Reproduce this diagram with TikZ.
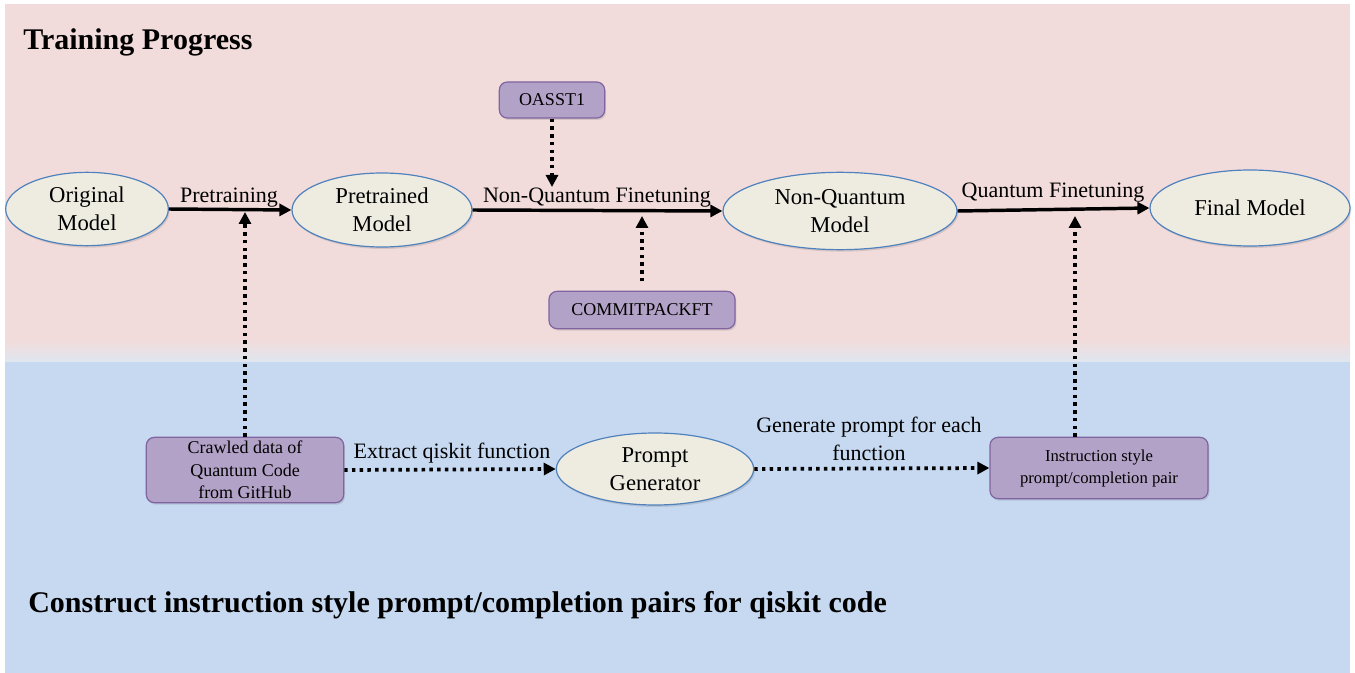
\documentclass[tikz,border=0pt]{standalone}
\usepackage{fontspec}
\setmainfont{Liberation Serif}
\usetikzlibrary{shapes.geometric,arrows.meta,calc,shadows}
\definecolor{bgpink}{HTML}{F2DCDB}
\definecolor{bgblue}{HTML}{C6D9F1}
\definecolor{bgmid}{HTML}{DEE6F0}
\definecolor{ellfill}{HTML}{EEECE1}
\definecolor{ellline}{HTML}{4F81BD}
\definecolor{boxfill}{HTML}{B3A2C7}
\definecolor{boxline}{HTML}{8064A2}
\tikzset{
  model/.style={ellipse, draw=ellline, line width=0.9pt, fill=ellfill, inner sep=0pt,
    align=center, font=\rmfamily\fontsize{17}{21}\selectfont,
    drop shadow={shadow xshift=1pt, shadow yshift=-1.5pt, opacity=0.25}},
  databox/.style={rectangle, rounded corners=6pt, draw=boxline, line width=0.9pt, fill=boxfill,
    inner sep=0pt, align=center,
    drop shadow={shadow xshift=1pt, shadow yshift=-1.5pt, opacity=0.25}},
  flow/.style={line width=2.6pt, -{Triangle[length=9pt,width=9pt]}},
  dotflow/.style={line width=2.8pt, dash pattern=on 2.6pt off 3.2pt, -{Triangle[length=9pt,width=9pt]}},
  lbl/.style={anchor=base, inner sep=0pt, font=\rmfamily\fontsize{16.5}{20}\selectfont, align=center},
  title/.style={anchor=base west, inner sep=0pt, font=\rmfamily\bfseries\fontsize{22.5}{26}\selectfont}
}
\begin{document}
\begin{tikzpicture}[x=0.75pt,y=-0.75pt]
\useasboundingbox (0,0) rectangle (1355,673);
% backgrounds
\fill[bgpink] (5,4) rectangle (1350,341);
\shade[top color=bgpink, bottom color=bgmid] (5,340) rectangle (1350,362);
\fill[bgblue] (5,362) rectangle (1350,673);
% titles
\node[title] (t1) at (23,50) {Training Progress};
\node[title] (t2) at (28,612) {Construct instruction style prompt/completion pairs for qiskit code};
% models
\node[model, minimum width=122pt, minimum height=55pt] (orig) at (87,209) {Original\\Model};
\node[model, minimum width=135pt, minimum height=55.5pt] (pre) at (382,210) {Pretrained\\Model};
\node[model, minimum width=175.5pt, minimum height=58pt] (nq) at (840,211) {Non-Quantum\\Model};
\node[model, minimum width=150pt, minimum height=57pt] (fin) at (1250,208) {Final Model};
\node[model, minimum width=148pt, minimum height=54pt] (pg) at (655,469) {Prompt\\Generator};
% data boxes
\node[databox, minimum width=79pt, minimum height=27pt, font=\rmfamily\fontsize{13.5}{16}\selectfont] (oa) at (552,100) {OASST1};
\node[databox, minimum width=139.5pt, minimum height=28pt, font=\rmfamily\fontsize{13.5}{16}\selectfont] (cp) at (642,310) {COMMITPACKFT};
\node[databox, minimum width=148pt, minimum height=49pt, font=\rmfamily\fontsize{13.5}{17}\selectfont] (cr) at (245,470) {Crawled data of\\Quantum Code\\from GitHub};
\node[databox, minimum width=163.5pt, minimum height=46pt, font=\rmfamily\fontsize{12.5}{16.5}\selectfont] (ins) at (1099,468) {Instruction style\\prompt/completion pair};
% main flow
\draw[flow] (orig.east) -- (pre.west);
\draw[flow] (pre.east) -- (nq.west);
\draw[flow] (nq.east) -- (fin.west);
\node[lbl] (l1) at (229,203) {Pretraining};
\node[lbl] (l2) at (597,203) {Non-Quantum Finetuning};
\node[lbl] (l3) at (1053,198) {Quantum Finetuning};
% dotted inputs
\coordinate (oaend) at (552,187);
\coordinate (cpend) at (642,216);
\coordinate (crend) at (245,212);
\coordinate (insend) at (1075,216);
\draw[dotflow] (oa.south) -- (oaend);
\draw[dotflow, shorten <=7pt] (cp.north) -- (cpend);
\draw[dotflow] (cr.north) -- (crend);
\draw[dotflow] (ins.north -| insend) -- (insend);
% lower flow
\draw[dotflow] (cr.east) -- (pg.west);
\draw[dotflow] (pg.east) -- (ins.west);
\node[lbl] (l4) at (452,458) {Extract qiskit function};
\node[lbl] (l5) at (869,432) {Generate prompt for each};
\node[lbl] (l6) at (869,460) {function};
\end{tikzpicture}
\end{document}
